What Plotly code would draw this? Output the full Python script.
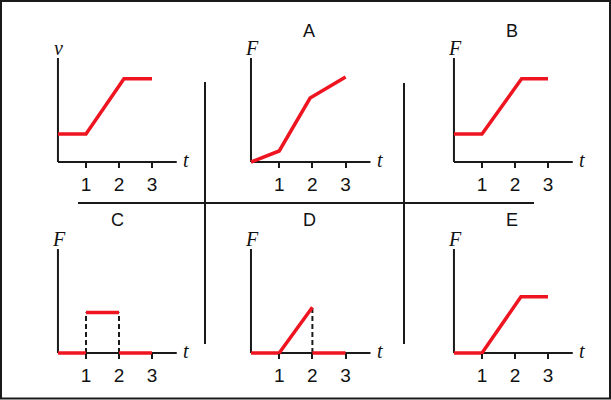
import plotly.graph_objects as go

# ---------------- data ----------------
tick_labels = ["1", "2", "3"]
tick_values = [1, 2, 3]

panel_titles = ["", "A", "B", "C", "D", "E"]
panel_ylabels = ["v", "F", "F", "F", "F", "F"]

# top-left: velocity graph
v_t = [0.15, 1, 2.15, 3]
v_val = [0.27, 0.27, 0.80, 0.80]
# A
a_t = [0.15, 1, 1.93, 3]
a_val = [0.0, 0.106, 0.615, 0.817]
# B
b_t = [0.15, 1, 2.2, 3]
b_val = [0.27, 0.27, 0.80, 0.80]
# C (pulse)
c_t = [0.15, 1, None, 1, 2, None, 2, 3]
c_val = [0.0, 0.0, None, 0.39, 0.39, None, 0.0, 0.0]
c_dash_t = [1, 1, None, 2, 2]
c_dash_val = [0.0, 0.39, None, 0.0, 0.39]
# D (ramp then drop)
d_t = [0.15, 1, 2, None, 2, 3]
d_val = [0.0, 0.0, 0.44, None, 0.0, 0.0]
d_dash_t = [2, 2]
d_dash_val = [0.0, 0.44]
# E
e_t = [0.15, 1, 2.18, 3]
e_val = [0.0, 0.0, 0.54, 0.54]

series = [
    (v_t, v_val, None, None),
    (a_t, a_val, None, None),
    (b_t, b_val, None, None),
    (c_t, c_val, c_dash_t, c_dash_val),
    (d_t, d_val, d_dash_t, d_dash_val),
    (e_t, e_val, None, None),
]

T_START, T_END = 0.15, 3.75

# ---------------- layout geometry (pixels) ----------------
W, H = 611, 400
# (pixel x of t=0, px per t unit, pixel y of value 0, pixel y of value 1)
geom = [
    (53, 33.0, 162, 58),
    (246, 33.2, 162, 58),
    (449, 33.0, 162, 58),
    (53, 33.0, 353, 249),
    (246, 33.2, 353, 249),
    (449, 33.0, 353, 249),
]
title_pos = [None, (309, 31), (512, 31), (117, 220), (309, 220), (512, 220)]

RED = "#ee1520"
AX = "#1a1a1a"


def px(x):
    return x / W


def py(y):
    return 1 - y / H


fig = go.Figure()
shapes = []
annotations = []

for i, ((ox, unit, by, ty), (t, val, dt, dv)) in enumerate(zip(geom, series)):
    n = "" if i == 0 else str(i + 1)
    xa, ya = "x" + n, "y" + n
    h = by - ty
    ax_px = ox + T_START * unit
    rx_px = ox + T_END * unit
    # domains padded a little so lines on the axes are not clipped
    xd0, xd1 = ax_px - 8, rx_px + 4
    yd0, yd1 = by + 6, ty - 4
    fig.update_layout({
        "xaxis" + n: dict(
            domain=[px(xd0), px(xd1)],
            range=[(xd0 - ox) / unit, (xd1 - ox) / unit],
            anchor="free", position=py(by),
            tickvals=tick_values, ticktext=tick_labels,
            ticks="outside", ticklen=5, tickwidth=1.5, tickcolor=AX,
            tickfont=dict(family="Liberation Sans, Arial", size=19, color="#111"),
            showline=False, showgrid=False, zeroline=False, fixedrange=True,
        ),
        "yaxis" + n: dict(
            domain=[py(yd0), py(yd1)],
            range=[(by - yd0) / h, (by - yd1) / h],
            anchor="free", position=px(ax_px),
            visible=False, showgrid=False, zeroline=False, fixedrange=True,
        ),
    })
    # axis lines
    shapes.append(dict(type="line", xref=xa, yref=ya, x0=T_START, x1=T_END, y0=0, y1=0,
                       line=dict(color=AX, width=2), layer="below"))
    shapes.append(dict(type="line", xref=xa, yref=ya, x0=T_START, x1=T_START, y0=0, y1=1,
                       line=dict(color=AX, width=2), layer="below"))
    if dt is not None:
        fig.add_trace(go.Scatter(x=dt, y=dv, xaxis=xa, yaxis=ya, mode="lines",
                                 line=dict(color=AX, width=2, dash="5px,3px"),
                                 showlegend=False, hoverinfo="skip"))
    fig.add_trace(go.Scatter(x=t, y=val, xaxis=xa, yaxis=ya, mode="lines",
                             line=dict(color=RED, width=3.5), connectgaps=False,
                             showlegend=False, hoverinfo="skip"))
    # axis labels
    annotations.append(dict(text="<i>t</i>", xref="paper", yref="paper",
                            x=px(rx_px + 9), y=py(by - 2), showarrow=False,
                            xanchor="center", yanchor="middle",
                            font=dict(family="Liberation Serif, Times New Roman", size=20, color="#111")))
    annotations.append(dict(text="<i>" + panel_ylabels[i] + "</i>", xref="paper", yref="paper",
                            x=px(ax_px + 1), y=py(ty - 10), showarrow=False,
                            xanchor="center", yanchor="middle",
                            font=dict(family="Liberation Serif, Times New Roman", size=20, color="#111")))
    if title_pos[i]:
        tx, tyy = title_pos[i]
        annotations.append(dict(text=panel_titles[i], xref="paper", yref="paper",
                                x=px(tx), y=py(tyy), showarrow=False,
                                xanchor="center", yanchor="middle",
                                font=dict(family="Liberation Sans, Arial", size=18, color="#111")))

# dividers
div = dict(color=AX, width=2)
shapes.append(dict(type="line", xref="paper", yref="paper", x0=px(205), x1=px(205), y0=py(82), y1=py(344), line=div))
shapes.append(dict(type="line", xref="paper", yref="paper", x0=px(404), x1=px(404), y0=py(83), y1=py(344), line=div))
shapes.append(dict(type="line", xref="paper", yref="paper", x0=px(78), x1=px(534), y0=py(203), y1=py(203), line=div))
# outer border
shapes.append(dict(type="rect", xref="paper", yref="paper", x0=px(1), x1=px(610), y0=py(398.5), y1=py(1),
                   line=dict(color=AX, width=2)))

fig.update_layout(
    width=W, height=H,
    margin=dict(l=0, r=0, t=0, b=0),
    paper_bgcolor="white", plot_bgcolor="white",
    shapes=shapes, annotations=annotations,
    showlegend=False,
)

fig.write_html("out.html", config={"displayModeBar": False},
               post_script="document.body.style.margin='0';document.body.style.overflow='hidden';")
